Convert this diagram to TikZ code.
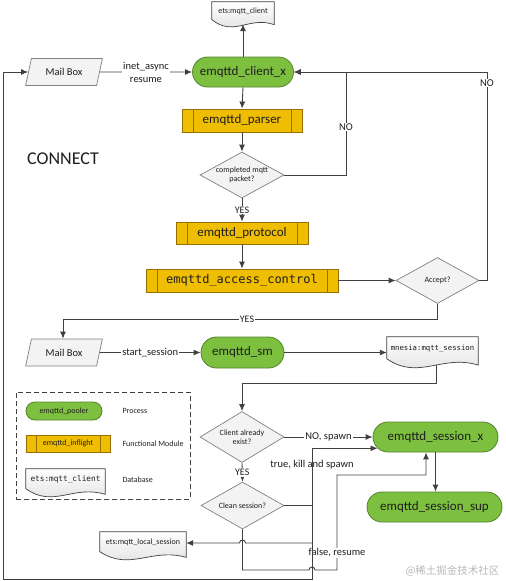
\documentclass[tikz,border=0pt]{standalone}
\usepackage{fontspec}
\setmainfont{Carlito}
\newfontfamily\consol{DejaVu Sans Mono}
\newfontfamily\cjkf{Noto Sans CJK SC}
\usetikzlibrary{shapes.geometric,shapes.misc,arrows.meta,calc,backgrounds}
\definecolor{gfill}{RGB}{125,192,64}
\definecolor{gline}{RGB}{84,130,45}
\definecolor{yfill}{RGB}{240,190,0}
\definecolor{yline}{RGB}{150,112,0}
\definecolor{dfill}{RGB}{243,243,243}
\definecolor{dline}{RGB}{128,128,128}
\definecolor{cline}{RGB}{64,64,64}
\definecolor{txt}{RGB}{30,30,30}
\newcommand\fsz[2]{\fontsize{#1}{#2}\selectfont}
\newcommand\up[1]{\raisebox{3.5pt}[\height][\depth]{#1}}
\tikzset{
 proc/.style={rounded rectangle, draw=gline, fill=gfill, line width=0.8pt, inner sep=0pt, text=txt, font=\fsz{13}{15}},
 func/.style={rectangle, draw=yline, fill=yfill, line width=0.8pt, inner sep=0pt, text=txt, font=\fsz{13}{15},
   path picture={\draw[yline, line width=0.8pt]
     ([xshift=#1]path picture bounding box.north west) -- ([xshift=#1]path picture bounding box.south west)
     ([xshift=-#1]path picture bounding box.north east) -- ([xshift=-#1]path picture bounding box.south east);}},
 func/.default=11pt,
 dec/.style={diamond, draw=dline, fill=dfill, line width=0.7pt, inner sep=0pt, aspect=1.8, align=center, font=\fsz{8}{9.5}, text=txt},
 mbox/.style={trapezium, trapezium left angle=66, trapezium right angle=114, trapezium stretches=true, draw=dline, fill=dfill, line width=0.7pt, inner sep=0pt, font=\fsz{10.5}{12}, text=txt, minimum width=77pt, minimum height=27pt},
 docn/.style={rectangle, inner sep=0pt, font=\fsz{8}{10}, text=txt},
 docshape/.style={draw=cline, line width=0.7pt, top color=white, bottom color=black!14},
 arr/.style={draw=cline, line width=0.9pt, -{Latex[length=7pt,width=6pt]}},
 lbl/.style={font=\fsz{10.5}{13}, text=txt, inner sep=1pt, fill=white},
 lbln/.style={font=\fsz{10.5}{13}, text=txt, inner sep=1pt},
}
\begin{document}
\begin{tikzpicture}[x=1pt,y=-1pt]
\useasboundingbox (0,0) rectangle (506,581);
% main nodes
\node[docn, minimum width=62pt, minimum height=25pt] (etsc) at (243,14.5) {\up{ets:mqtt\_client}};
\node[proc, minimum width=101pt, minimum height=30pt] (cx) at (243,72) {emqttd\_client\_x};
\node[mbox] (mb1) at (64,72) {Mail Box};
\node[func, minimum width=120pt, minimum height=23pt] (pa) at (242,120.5) {emqttd\_parser};
\node[dec, minimum width=84pt, minimum height=46pt] (cd) at (242,175) {completed mqtt\\packet?};
\node[func, minimum width=132pt, minimum height=22pt] (pr) at (242,233) {emqttd\_protocol};
\node[func, minimum width=192pt, minimum height=23pt, font=\consol\fsz{12}{14}] (ac) at (242,280.5) {emqttd\_access\_control};
\node[dec, minimum width=83pt, minimum height=46pt] (acc) at (437.5,280.5) {Accept?};
\node[mbox] (mb2) at (64,352.5) {Mail Box};
\node[proc, minimum width=83pt, minimum height=31pt] (sm) at (242.5,352.5) {emqttd\_sm};
\node[docn, minimum width=91pt, minimum height=31pt, font=\consol\fsz{7.3}{9}] (mn) at (432.5,352.5) {\up{mnesia:mqtt\_session}};
\node[dec, minimum width=84pt, minimum height=51pt] (ce) at (242,437) {Client already\\exist?};
\node[dec, minimum width=83pt, minimum height=47pt] (cl) at (242.5,505.5) {Clean session?};
\node[proc, minimum width=125pt, minimum height=30pt] (sx) at (435.5,437) {emqttd\_session\_x};
\node[proc, minimum width=135pt, minimum height=30pt] (sup) at (434.5,507) {emqttd\_session\_sup};
\node[docn, minimum width=86pt, minimum height=28pt] (ld) at (143,546) {\up{ets:mqtt\_local\_session}};
\node[font=\fsz{18}{20}, text=txt] (con) at (63,159) {CONNECT};
% legend
\node[draw=cline, dash pattern=on 5pt off 3pt, line width=0.8pt, minimum width=174pt, minimum height=107pt, inner sep=0pt] (leg) at (103,445.5) {};
\node[proc, minimum width=76pt, minimum height=18pt, font=\fsz{8}{10}] (lp) at (64,411) {emqttd\_pooler};
\node[func=10pt, minimum width=84pt, minimum height=17pt, font=\fsz{8}{10}] (lf) at (68,443.5) {emqttd\_inflight};
\node[docn, minimum width=79pt, minimum height=28pt, font=\consol\fsz{7.75}{9}] (ldb) at (65.5,483) {\up{ets:mqtt\_client}};
\node[anchor=west, font=\fsz{8}{10}, text=txt] (t1) at (119,411) {Process};
\node[anchor=west, font=\fsz{8}{10}, text=txt] (t2) at (119,443.5) {Functional Module};
\node[anchor=west, font=\fsz{8}{10}, text=txt] (t3) at (119,480) {Database};
% document outlines
\begin{pgfonlayer}{background}
\foreach \nd in {etsc,mn,ld,ldb}{
 \path[docshape] let \p1=(\nd.north west), \p2=(\nd.south east), \n1={\y1-\y2}, \n2={\x2-\x1} in
   (\x1,\y1) -- (\x2,\y1) -- (\x2,\y2+0.1*\n1)
   .. controls (\x1+0.6*\n2,\y2+0.45*\n1) and (\x1+0.35*\n2,\y2-0.4*\n1) .. (\x1,\y2+0.3*\n1) -- cycle;
}
\end{pgfonlayer}
% coordinates
\coordinate (c1) at (346,72);
\coordinate (c2) at (487,72);
\coordinate (c3) at (63,319);
\coordinate (c4) at (242,383);
\coordinate (vx) at (312,0);
\coordinate (fy) at (0,570);
\coordinate (fx) at (337,475);
\coordinate (b1) at (312,579);
\coordinate (b2) at (3,579);
\coordinate (lq) at (312,543);
\coordinate (mo) at ([xshift=3.5pt,yshift=3.5pt]mn.south);
\coordinate (sxin) at ([xshift=-9.5pt]sx.south);
% connectors
\draw[arr] (cx.north) -- ([yshift=3pt]etsc.south);
\draw[arr] (mb1.east) -- node[lbl, align=center] (l1) {inet\_async\\resume} (cx.west);
\draw[arr] (cx.south) -- (pa.north);
\draw[arr] (pa.south) -- (cd.north);
\draw[arr] (cd.south) -- node[lbl, font=\fsz{10}{12}] (y1) {YES} (pr.north);
\draw[arr] (pr.south) -- (ac.north);
\draw[arr] (ac.east) -- (acc.west);
\draw[arr] (cd.east) -| (c1) -- (cx.east);
\node[lbl] (n1) at (346,127) {NO};
\draw[arr] (acc.east) -| (c2) -- (cx.east);
\node[lbl] (n2) at (487,83) {NO};
\draw[arr] (acc.south) |- (c3) -- (mb2.north -| c3);
\node[lbl, font=\fsz{10}{12}] (y2) at (247,319) {YES};
\draw[arr] (mb2.east) -- node[lbl] (ss) {start\_session} (sm.west);
\draw[arr] (sm.east) -- (mn.west);
\draw[arr] (mo) |- (c4) -- (ce.north);
\draw[arr] (ce.east) -- node[lbl] (ns) {NO, spawn} (ce.east -| sx.west);
\draw[arr] (ce.south) -- node[lbl, font=\fsz{10}{12}] (y3) {YES} (cl.north);
\draw[arr] (sx.south) -- (sx.south |- sup.north);
% false, resume
\draw[arr] (cl.south) -- (cl.south |- fy) -- ($(vx |- fy)+(-3,0)$) arc[start angle=180,end angle=0,radius=3pt] -- (fx |- fy) -- (fx) -| (sxin);
\node[lbl] (fl) at (337,553) {false, resume};
% true, kill and spawn
\node[lbln] (tl) at (312,465) {true, kill and spawn};
\draw[arr] (cl.east) -| (vx |- sx.191) -- (sx.191);
% loop back and local session
\draw[arr] (vx |- cl.east) -- (b1) -- (b2) |- (mb1.west);
\draw[arr] (lq) -- ($(cl.south |- lq)+(3,0)$) arc[start angle=0,end angle=180,radius=3pt] -- (ld.east |- lq);
% watermark
\node[font=\cjkf\fsz{10.5}{12}, text=black!28, anchor=east] (wm) at (503,571) {@稀土掘金技术社区};
\end{tikzpicture}
\end{document}
